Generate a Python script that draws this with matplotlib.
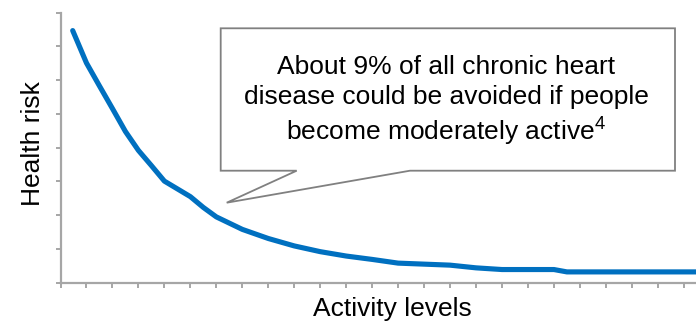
import matplotlib
matplotlib.use("Agg")
import matplotlib.pyplot as plt
from matplotlib.patches import Polygon

plt.rcParams['font.family'] = ['Liberation Sans', 'DejaVu Sans']
plt.rcParams['mathtext.fontset'] = 'custom'
plt.rcParams['mathtext.rm'] = 'Liberation Sans'
plt.rcParams['mathtext.default'] = 'regular'

# Data (activity level position, health risk)
activity = [0.47, 1, 1.5, 2, 2.5, 3, 3.5, 4, 5, 5.5, 6, 7, 8, 9, 10, 11,
            12, 13, 14, 15, 16, 17, 18, 19, 19.5, 20, 21, 22, 23, 24, 24.5]
risk = [7.47, 6.51, 5.83, 5.16, 4.48, 3.92, 3.47, 3.01, 2.55, 2.23, 1.95,
        1.58, 1.31, 1.09, 0.92, 0.79, 0.69, 0.58, 0.55, 0.52, 0.44, 0.39,
        0.39, 0.39, 0.32, 0.32, 0.32, 0.32, 0.32, 0.32, 0.32]
x_ticks = list(range(0, 25))
y_ticks = list(range(0, 9))

callout_text = ("About 9% of all chronic heart\n"
                "disease could be avoided if people\n"
                "become moderately active$^{4}$")

W, H = 696, 323
fig = plt.figure(figsize=(W / 100, H / 100), dpi=100)
left, bottom, top = 60.5, 282.7, 12.7
ax = fig.add_axes([left / W, 1 - bottom / H, 1 - left / W, (bottom - top) / H])

axis_color = '#a6a6a6'
ax.plot(activity, risk, color='#0070C0', lw=3.7,
        solid_joinstyle='round', solid_capstyle='round', clip_on=False)

ax.set_xlim(0, 24.47)
ax.set_ylim(0, 8)
ax.set_xticks(x_ticks)
ax.set_yticks(y_ticks)
ax.set_xticklabels([])
ax.set_yticklabels([])
for s in ['top', 'right']:
    ax.spines[s].set_visible(False)
for s in ['left', 'bottom']:
    ax.spines[s].set_color(axis_color)
    ax.spines[s].set_linewidth(1.6)
ax.tick_params(axis='both', direction='out', length=3.5, width=1.4,
               color=axis_color)

fig.text(392 / W, 1 - 309 / H, 'Activity levels',
         fontsize=19, ha='center', va='center')
fig.text(33 / W, 1 - 144 / H, 'Health risk', fontsize=19, rotation=90,
         ha='center', va='center')

# Callout shape (pixels from top-left)
pts_px = [(220.7, 28.3), (675, 28.3), (675, 170.7), (410, 170.7),
          (226.7, 202.7), (296.7, 170.7), (220.7, 170.7)]
pts = [(x / W, 1 - y / H) for x, y in pts_px]
poly = Polygon(pts, closed=True, facecolor='white', edgecolor='#808080',
               lw=1.3, transform=fig.transFigure, zorder=5)
fig.add_artist(poly)
fig.text(446 / W, 1 - 101.5 / H, callout_text, fontsize=19, ha='center',
         va='center', linespacing=1.3, zorder=6)

fig.savefig('out.png', dpi=100)
